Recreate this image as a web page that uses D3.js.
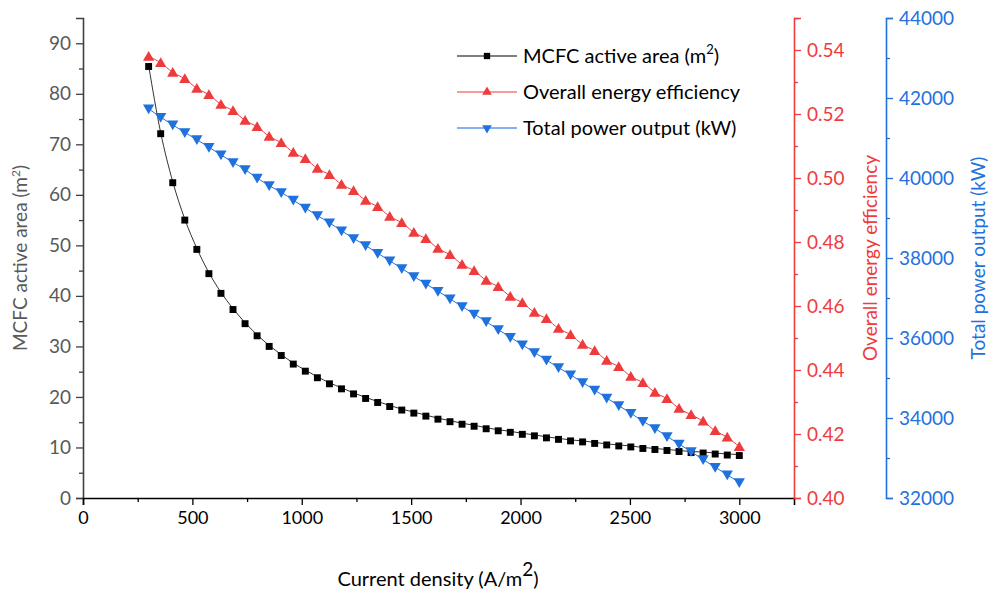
<!DOCTYPE html>
<html>
<head>
<meta charset="utf-8">
<script src="https://cdn.jsdelivr.net/npm/d3@7"></script>
<style>
  body { margin: 0; background: #fff; }
  svg text { font-family: Lato, "Liberation Sans", sans-serif; }
</style>
</head>
<body>
<div id="chart"></div>
<script>
(function () {
  'use strict';

  // current density (A/m2), 50 points from 300 to 3000
  const density = [300, 355.1, 410.2, 465.3, 520.4, 575.5, 630.6, 685.7, 740.8, 795.9,
    851.0, 906.1, 961.2, 1016.3, 1071.4, 1126.5, 1181.6, 1236.7, 1291.8, 1346.9,
    1402.0, 1457.1, 1512.2, 1567.3, 1622.4, 1677.6, 1732.7, 1787.8, 1842.9, 1898.0,
    1953.1, 2008.2, 2063.3, 2118.4, 2173.5, 2228.6, 2283.7, 2338.8, 2393.9, 2449.0,
    2504.1, 2559.2, 2614.3, 2669.4, 2724.5, 2779.6, 2834.7, 2889.8, 2944.9, 3000];

  // MCFC active area (m2)
  const area = [85.6, 72.3, 62.6, 55.2, 49.4, 44.6, 40.7, 37.5, 34.7, 32.3,
    30.2, 28.4, 26.7, 25.3, 24.0, 22.8, 21.8, 20.8, 19.9, 19.1,
    18.3, 17.6, 17.0, 16.4, 15.8, 15.3, 14.8, 14.4, 13.9, 13.5,
    13.2, 12.8, 12.5, 12.1, 11.8, 11.5, 11.3, 11.0, 10.7, 10.5,
    10.3, 10.0, 9.8, 9.6, 9.4, 9.2, 9.1, 8.9, 8.7, 8.6];

  // overall energy efficiency
  const efficiency = [0.538, 0.536, 0.533, 0.531, 0.528, 0.526, 0.523, 0.521, 0.518, 0.516,
    0.513, 0.511, 0.508, 0.506, 0.503, 0.501, 0.498, 0.496, 0.493, 0.491,
    0.488, 0.486, 0.483, 0.481, 0.478, 0.476, 0.473, 0.471, 0.468, 0.466,
    0.463, 0.461, 0.458, 0.456, 0.453, 0.451, 0.448, 0.446, 0.443, 0.441,
    0.438, 0.436, 0.433, 0.431, 0.428, 0.426, 0.424, 0.421, 0.419, 0.416];

  // total power output (kW)
  const power = [41730, 41520, 41330, 41140, 40960, 40770, 40580, 40390, 40210, 40000,
    39810, 39640, 39450, 39250, 39060, 38880, 38680, 38490, 38310, 38120,
    37930, 37740, 37540, 37350, 37170, 36980, 36790, 36600, 36410, 36210,
    36020, 35830, 35640, 35450, 35260, 35080, 34890, 34700, 34500, 34310,
    34120, 33920, 33740, 33540, 33350, 33160, 32960, 32770, 32580, 32390];

  const xTicks = [0, 500, 1000, 1500, 2000, 2500, 3000];
  const leftTicks = [0, 10, 20, 30, 40, 50, 60, 70, 80, 90];
  const redTicks = [0.40, 0.42, 0.44, 0.46, 0.48, 0.50, 0.52, 0.54];
  const blueTicks = [32000, 34000, 36000, 38000, 40000, 42000, 44000];

  const RED = '#ee3b3d';
  const BLUE = '#1f71de';
  const GREY = '#595959';

  const width = 989, height = 595;
  const svg = d3.select('#chart').append('svg')
    .attr('width', width)
    .attr('height', height);

  const x = d3.scaleLinear().domain([0, 3250]).range([83, 794]);
  const yL = d3.scaleLinear().domain([0, 95]).range([498, 18]);
  const yR = d3.scaleLinear().domain([0.40, 0.55]).range([498, 18]);
  const yB = d3.scaleLinear().domain([32000, 44000]).range([498, 18]);

  // helper: major + minor ticks on an axis
  function drawAxis(axisFn, scale, major, minor, transform, color, fmt, fontSize, pad) {
    const g = svg.append('g').attr('transform', transform);
    g.call(axisFn(scale).tickValues(minor).tickSize(4).tickFormat(''));
    const gm = svg.append('g').attr('transform', transform);
    gm.call(axisFn(scale).tickValues(major).tickSize(7).tickPadding(pad).tickFormat(fmt));
    [g, gm].forEach(s => {
      s.selectAll('path.domain').attr('stroke', color).attr('stroke-width', 1.6);
      s.selectAll('line').attr('stroke', color).attr('stroke-width', 1.3);
      s.selectAll('text').attr('fill', color).style('font-size', fontSize + 'px');
    });
    g.select('path.domain').remove();
    return gm;
  }

  const leftMinor = d3.range(5, 95, 10);
  drawAxis(d3.axisLeft, yL, leftTicks, leftMinor, 'translate(83,0)', '#404040', d3.format('d'), 19, 5)
    .selectAll('text').attr('fill', GREY);

  drawAxis(d3.axisBottom, x, xTicks, d3.range(250, 3250, 500), 'translate(0,498)', '#000', d3.format('d'), 18, 6);

  drawAxis(d3.axisRight, yR, redTicks, d3.range(0.41, 0.555, 0.02), 'translate(794,0)', RED, d3.format('.2f'), 19, 6);

  drawAxis(d3.axisRight, yB, blueTicks, d3.range(33000, 44000, 2000), 'translate(886,0)', BLUE, d3.format('d'), 19, 6);

  // axis titles
  const lt = svg.append('text')
    .attr('transform', 'translate(27,258) rotate(-90)')
    .attr('text-anchor', 'middle')
    .attr('fill', GREY)
    .style('font-size', '19px');
  lt.append('tspan').text('MCFC active area (m');
  lt.append('tspan').attr('dy', -7).style('font-size', '12px').text('2');
  lt.append('tspan').attr('dy', 7).text(')');

  svg.append('text')
    .attr('transform', 'translate(877,258) rotate(-90)')
    .attr('text-anchor', 'middle')
    .attr('fill', RED)
    .style('font-size', '19px')
    .text('Overall energy efficiency');

  svg.append('text')
    .attr('transform', 'translate(985,258) rotate(-90)')
    .attr('text-anchor', 'middle')
    .attr('fill', BLUE)
    .style('font-size', '19px')
    .text('Total power output (kW)');

  const bt = svg.append('text')
    .attr('x', 438)
    .attr('y', 586)
    .attr('text-anchor', 'middle')
    .attr('fill', '#000')
    .style('font-size', '20px');
  bt.append('tspan').text('Current density (A/m');
  bt.append('tspan').attr('dy', -10).style('font-size', '19px').text('2');
  bt.append('tspan').attr('dy', 10).text(')');

  // series
  const series = [
    { name: 'area', vals: area, y: yL, color: '#000', line: '#333', symbol: d3.symbolSquare, size: 48, rot: 0 },
    { name: 'eff', vals: efficiency, y: yR, color: RED, line: RED, symbol: d3.symbolTriangle, size: 55, rot: 0 },
    { name: 'power', vals: power, y: yB, color: BLUE, line: BLUE, symbol: d3.symbolTriangle, size: 55, rot: 180 }
  ];

  series.forEach(s => {
    const pts = density.map((d, i) => [x(d), s.y(s.vals[i])]);
    svg.append('path')
      .attr('d', d3.line().curve(d3.curveMonotoneX)(pts))
      .attr('fill', 'none')
      .attr('stroke', s.line)
      .attr('stroke-width', 1);
    svg.append('g')
      .selectAll('path')
      .data(pts)
      .join('path')
      .attr('d', d3.symbol().type(s.symbol).size(s.size))
      .attr('transform', d => `translate(${d[0]},${d[1] + (s.rot ? -1 : 1)}) rotate(${s.rot})`)
      .attr('fill', s.color);
  });

  // legend
  const legendItems = [
    { label: 'MCFC active area (m', sup: '2', after: ')', line: '#555', color: '#000', symbol: d3.symbolSquare, size: 40, rot: 0 },
    { label: 'Overall energy efficiency', line: '#f27a7a', color: RED, symbol: d3.symbolTriangle, size: 40, rot: 0 },
    { label: 'Total power output (kW)', line: '#5a98e6', color: BLUE, symbol: d3.symbolTriangle, size: 40, rot: 180 }
  ];
  const legend = svg.append('g').attr('transform', 'translate(457,56)');
  legendItems.forEach((d, i) => {
    const row = legend.append('g').attr('transform', `translate(0,${i * 36})`);
    row.append('line').attr('x1', 0).attr('x2', 60).attr('y1', 0).attr('y2', 0)
      .attr('stroke', d.line).attr('stroke-width', 1.3);
    row.append('path')
      .attr('d', d3.symbol().type(d.symbol).size(d.size))
      .attr('transform', `translate(30,0) rotate(${d.rot})`)
      .attr('fill', d.color);
    const t = row.append('text').attr('x', 66).attr('y', 7)
      .attr('fill', '#000').style('font-size', '20px');
    t.append('tspan').text(d.label);
    if (d.sup) {
      t.append('tspan').attr('dy', -9).style('font-size', '13px').text(d.sup);
      t.append('tspan').attr('dy', 9).text(d.after);
    }
  });
})();
</script>
</body>
</html>
